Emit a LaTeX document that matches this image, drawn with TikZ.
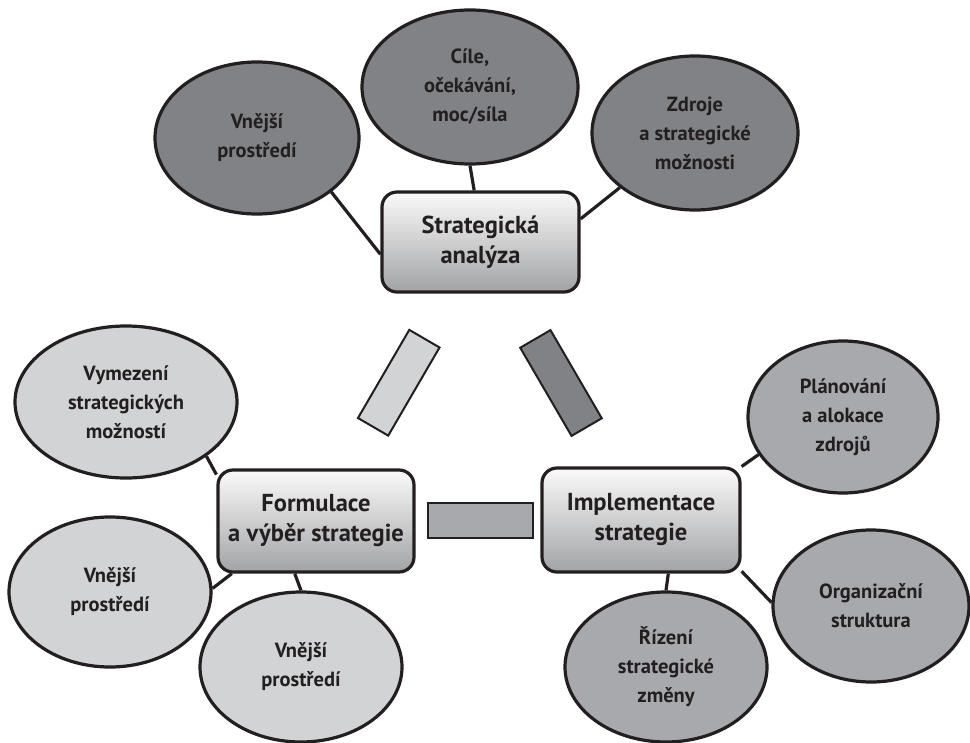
\documentclass[tikz,border=0pt]{standalone}
\usepackage{fontspec}
\setmainfont{PT Sans}
\usetikzlibrary{shapes.geometric}
\pgfdeclarelayer{bg}
\pgfsetlayers{bg,main}
\definecolor{ink}{HTML}{231F20}
\definecolor{darkfill}{HTML}{808285}
\definecolor{midfill}{HTML}{A7A9AC}
\definecolor{lightfill}{HTML}{D1D3D4}
\definecolor{boxtop}{HTML}{FAFAFA}
\definecolor{boxbot}{HTML}{A2A3A5}

\begin{document}
\begin{tikzpicture}[x=1bp,y=-1bp,
  topic/.style={ellipse, draw=ink, line width=3.2bp, inner sep=0pt, align=center,
    text=ink, font=\fontsize{20.5bp}{29bp}\bfseries\selectfont},
  dk/.style={topic, fill=darkfill},
  md/.style={topic, fill=midfill},
  lt/.style={topic, fill=lightfill},
  box/.style={rectangle, rounded corners=15bp, draw=ink, line width=3.2bp,
    top color=boxtop, bottom color=boxbot, minimum width=196bp, minimum height=102bp,
    inner sep=0pt, align=center, text=ink, font=\fontsize{24.5bp}{30bp}\bfseries\selectfont},
  bar/.style={rectangle, draw=ink, line width=2bp, inner sep=0pt},
  link/.style={draw=ink, line width=3.2bp}]

\path[use as bounding box] (0,0) rectangle (970,743);

% strategic analysis cluster
\node[dk, minimum width=204bp, minimum height=152bp] (ext1) at (257,138) {Vnější\\prostředí};
\node[dk, minimum width=216bp, minimum height=154bp] (goals) at (470,87) {Cíle,\\očekávání,\\moc/síla};
\node[dk, minimum width=206bp, minimum height=154bp] (res) at (695,133) {Zdroje\\a strategické\\možnosti};
\node[box, minimum width=197bp, minimum height=100bp] (sa) at (480.5,242) {Strategická\\analýza};

% formulation cluster
\node[lt, minimum width=222bp, minimum height=152bp] (opt) at (126,402) {Vymezení\\strategických\\možností};
\node[lt, minimum width=202bp, minimum height=150bp] (ext2) at (110,592) {Vnější\\prostředí};
\node[lt, minimum width=202bp, minimum height=150bp] (ext3) at (301,667) {Vnější\\prostředí};
\node[box] (fs) at (316,521) {Formulace\\a výběr strategie};

% implementation cluster
\node[md, minimum width=190bp, minimum height=152bp] (plan) at (843,417) {Plánování\\a alokace\\zdrojů};
\node[md, minimum width=196bp, minimum height=152bp] (org) at (871,606) {Organizační\\struktura};
\node[md, minimum width=202bp, minimum height=150bp] (chg) at (666,667) {Řízení\\strategické\\změny};
\node[box, minimum width=198bp, minimum height=104bp] (impl) at (641,520) {Implementace\\strategie};

% bars between the three stages
\node[bar, fill=lightfill, minimum width=102bp, minimum height=35bp, rotate=59.8] (barL) at (398.75,382.75) {};
\node[bar, fill=darkfill, minimum width=102bp, minimum height=35bp, rotate=-59.8] (barR) at (561,383) {};
\node[bar, fill=midfill, minimum width=105bp, minimum height=35bp] (barH) at (480.5,520.5) {};

% connectors behind the shapes
\begin{pgfonlayer}{bg}
  \draw[link] (ext1.-36.5) -- (sa.187);
  \draw[link] (goals.south) -- (sa.97);
  \draw[link] (res.-144) -- (sa.13.7);
  \draw[link] (opt.-34.8) -- (fs.155);
  \draw[link] (ext2.2) -- (fs.212);
  \draw[link] (ext3.north) -- (fs.248);
  \draw[link] (plan.204) -- (impl.28);
  \draw[link] (org.178) -- (impl.-27);
  \draw[link] (chg.north) -- (impl.-63);
\end{pgfonlayer}
\end{tikzpicture}
\end{document}
